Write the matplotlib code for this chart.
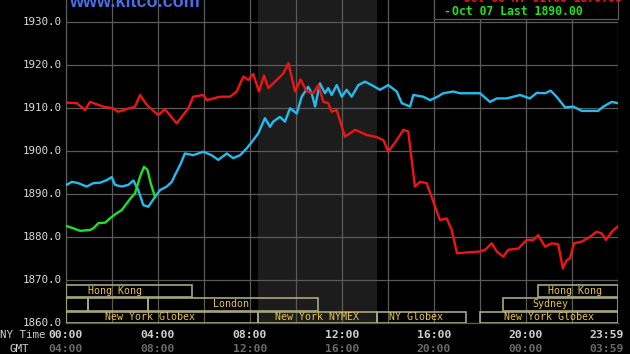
import matplotlib
matplotlib.use("Agg")
import matplotlib.pyplot as plt
from matplotlib.patches import Rectangle
from matplotlib.transforms import blended_transform_factory

# hours (NY time) and gold price
red_t = [0.03, 0.47, 0.83, 1.04, 1.61, 2.04, 2.26, 3.0, 3.22, 3.51, 4.01, 4.30,
         4.81, 5.32, 5.53, 5.97, 6.12, 6.70, 7.13, 7.42, 7.71, 7.93, 8.14, 8.39,
         8.61, 8.80, 9.01, 9.45, 9.67, 9.96, 10.20, 10.47, 10.75, 10.97, 11.19,
         11.40, 11.55, 11.77, 12.13, 12.57, 13.07, 13.51, 13.80, 14.01, 14.38,
         14.67, 14.88, 15.03, 15.17, 15.39, 15.68, 15.97, 16.26, 16.55, 16.77,
         17.0, 18.0, 18.22, 18.51, 18.73, 19.01, 19.23, 19.67, 20.03, 20.32,
         20.53, 20.83, 21.12, 21.40, 21.60, 21.77, 21.91, 22.09, 22.42, 22.78,
         23.07, 23.29, 23.48, 23.73, 23.98]
red_p = [1911.3, 1911.2, 1909.6, 1911.5, 1910.4, 1910.0, 1909.2, 1910.4, 1913.1,
         1910.8, 1908.4, 1909.8, 1906.5, 1910.0, 1912.7, 1913.1, 1911.9, 1912.7,
         1912.7, 1913.9, 1917.4, 1916.6, 1918.0, 1913.9, 1917.6, 1914.7, 1915.8,
         1918.1, 1920.5, 1913.9, 1916.7, 1913.9, 1913.5, 1915.4, 1911.5, 1911.2,
         1909.2, 1909.6, 1903.4, 1905.0, 1903.8, 1903.3, 1902.6, 1899.9, 1902.6,
         1905.0, 1904.6, 1898.0, 1891.8, 1892.9, 1892.6, 1888.3, 1884.0, 1884.4,
         1881.7, 1876.3, 1876.7, 1877.1, 1878.6, 1876.7, 1875.5, 1877.1, 1877.4,
         1879.4, 1879.4, 1880.5, 1877.8, 1878.6, 1878.4, 1872.8, 1874.7, 1875.1,
         1878.6, 1879.0, 1880.1, 1881.3, 1880.9, 1879.4, 1881.3, 1882.5]

blue_t = [0.03, 0.25, 0.53, 0.90, 1.19, 1.48, 1.77, 1.99, 2.13, 2.42, 2.71, 2.93,
          3.14, 3.36, 3.58, 3.87, 4.09, 4.38, 4.60, 4.74, 4.96, 5.17, 5.53, 5.97,
          6.33, 6.62, 6.99, 7.27, 7.57, 7.86, 8.14, 8.36, 8.65, 8.87, 9.01, 9.30,
          9.52, 9.74, 10.03, 10.25, 10.53, 10.68, 10.83, 11.04, 11.26, 11.40,
          11.55, 11.77, 11.99, 12.20, 12.42, 12.71, 13.0, 13.29, 13.65, 14.01,
          14.38, 14.60, 14.96, 15.10, 15.53, 15.83, 16.12, 16.40, 16.84, 17.13,
          18.0, 18.43, 18.73, 19.16, 19.74, 20.17, 20.47, 20.83, 21.07, 21.33,
          21.70, 22.06, 22.42, 23.14, 23.36, 23.73, 23.98]
blue_p = [1892.2, 1892.9, 1892.6, 1891.8, 1892.6, 1892.7, 1893.3, 1894.0, 1892.2,
          1891.8, 1892.2, 1893.2, 1891.0, 1887.5, 1887.1, 1889.4, 1891.0, 1891.8,
          1892.9, 1894.5, 1896.8, 1899.5, 1899.1, 1899.9, 1899.1, 1898.0, 1899.5,
          1898.4, 1899.1, 1900.7, 1902.6, 1904.2, 1907.7, 1905.7, 1906.9, 1908.0,
          1906.9, 1910.0, 1908.8, 1912.7, 1915.0, 1913.5, 1910.4, 1915.8, 1913.5,
          1914.7, 1913.1, 1915.4, 1912.7, 1914.3, 1912.7, 1915.4, 1916.2, 1915.4,
          1914.3, 1915.4, 1913.9, 1911.2, 1910.4, 1913.1, 1912.7, 1911.9, 1912.6,
          1913.5, 1913.9, 1913.5, 1913.5, 1911.5, 1912.3, 1912.3, 1913.1, 1912.3,
          1913.6, 1913.5, 1914.1, 1912.7, 1910.2, 1910.4, 1909.4, 1909.4, 1910.4,
          1911.5, 1911.2]

green_t = [0.03, 0.32, 0.61, 1.04, 1.19, 1.41, 1.70, 1.91, 2.20, 2.42, 2.64, 2.86,
           3.0, 3.22, 3.39, 3.54, 3.68, 3.87]
green_p = [1882.6, 1882.1, 1881.5, 1881.7, 1882.1, 1883.3, 1883.4, 1884.4, 1885.6,
           1886.3, 1887.9, 1889.4, 1890.2, 1894.1, 1896.4, 1895.7, 1892.6, 1889.4]

# market sessions: (row, start, end, label, label centre)
sessions = [
    (0, 0.0, 5.48, "Hong Kong", 2.13),
    (0, 20.52, 24.0, "Hong Kong", 22.11),
    (1, 0.0, 0.97, "", 0),
    (1, 0.97, 3.55, "", 0),
    (1, 3.55, 10.96, "London", 7.17),
    (1, 19.0, 24.0, "Sydney", 21.04),
    (2, 0.0, 8.33, "New York Globex", 3.65),
    (2, 8.33, 13.5, "New York NYMEX", 10.91),
    (2, 13.5, 17.38, "NY Globex", 15.22),
    (2, 18.0, 24.0, "New York Globex", 21.02),
]

y_ticks = [1860, 1870, 1880, 1890, 1900, 1910, 1920, 1930]
ny_labels = ["00:00", "04:00", "08:00", "12:00", "16:00", "20:00", "23:59"]
gmt_labels = ["04:00", "08:00", "12:00", "16:00", "20:00", "00:00", "03:59"]
label_hours = [0, 4, 8, 12, 16, 20, 24]

W, H = 630, 354
fig = plt.figure(figsize=(W / 100, H / 100), dpi=100, facecolor="black")
ax = fig.add_axes([66 / W, 1 - 323.3 / H, 552 / W, 323.3 / H])
ax.set_facecolor("black")
ax.set_xlim(0, 24)
ax.set_ylim(1860, 1860 + 323.3 / 4.3)

grid_c = "#5a5a5a"
ax.set_yticks(y_ticks)
ax.set_xticks(range(0, 25, 2))
ax.grid(True, color=grid_c, lw=0.9)
ax.set_axisbelow(True)
ax.tick_params(length=0, labelbottom=False, labelleft=False)
for s in ["top", "right"]:
    ax.spines[s].set_visible(False)
for s in ["left", "bottom"]:
    ax.spines[s].set_color(grid_c)
    ax.spines[s].set_linewidth(0.9)

ax.axvspan(8.33, 13.5, color="#1c1c1c", zorder=0.2, lw=0)

mono = "DejaVu Sans Mono"
for v in y_ticks:
    ax.text(-0.17, v, "%.1f" % v, ha="right", va="center", color="#dcdcdc",
            fontsize=7.8, family=mono, clip_on=False)

ax.plot(blue_t, blue_p, color="#22bdf0", lw=1.7, zorder=3)
ax.plot(green_t, green_p, color="#22e022", lw=1.7, zorder=3)
ax.plot(red_t, red_p, color="#f01414", lw=1.7, zorder=4)

# session boxes
row_y = [(1866.05, 1868.91), (1862.93, 1865.88), (1860.0, 1862.74)]
for row, t0, t1, name, tc in sessions:
    y0, y1 = row_y[row]
    ax.add_patch(Rectangle((t0, y0), t1 - t0, y1 - y0, fill=False,
                           edgecolor="#a8a880", lw=1.2, zorder=5))
    if name:
        ax.text(tc, (y0 + y1) / 2, name, ha="center", va="center",
                color="#e8c44a", fontsize=7.2, family=mono, zorder=6)

# top-right legend box
ax.add_patch(Rectangle((16.0, 1930.77), 8.0, 5.0, facecolor="black",
                       edgecolor=grid_c, lw=0.9, zorder=6, clip_on=False))
fig.text(443 / W, 1 - 11.5 / H, "-", color="#22e022", fontsize=8.3,
         family=mono, weight="bold", va="center", zorder=7)
fig.text(452 / W, 1 - 11.5 / H, "Oct 07 Last 1890.00", color="#22e022",
         fontsize=8.3, family=mono, weight="bold", va="center", zorder=7)
fig.text(443 / W, 1 + 1.5 / H, "-  Oct 08 NY 01:00 1870.00", color="#f01414",
         fontsize=8.3, family=mono, weight="bold", va="center", zorder=7)

fig.text(69 / W, 1 - 7 / H, "www.kitco.com", color="#4a6ee8", fontsize=13,
         family="Liberation Sans", weight="bold", va="baseline")

# time axis labels
trans = blended_transform_factory(ax.transData, fig.transFigure)
for h, ny, gmt in zip(label_hours, ny_labels, gmt_labels):
    x, ha = (24.26, "right") if h == 24 else (h, "center")
    ax.text(x, 1 - 335 / H, ny, transform=trans, ha=ha, va="center",
            color="#d0d0d0", fontsize=8.2, family=mono, weight="bold",
            clip_on=False)
    ax.text(x, 1 - 349 / H, gmt, transform=trans, ha=ha, va="center",
            color="#6a6a6a", fontsize=8.2, family=mono, weight="bold",
            clip_on=False)
fig.text(23 / W, 1 - 335 / H, "NY Time", ha="center", va="center",
         color="#d0d0d0", fontsize=7.8, family=mono)
fig.text(19 / W, 1 - 349 / H, "GMT", ha="center", va="center",
         color="#d0d0d0", fontsize=7.8, family=mono)

fig.savefig("out.png", dpi=100, facecolor="black")
